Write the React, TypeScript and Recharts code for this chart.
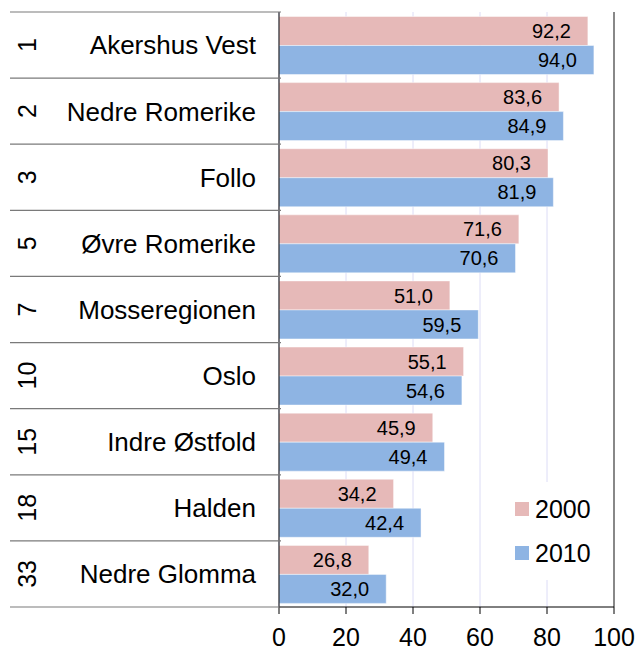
import React from 'react';
import { BarChart, Bar, XAxis, YAxis, CartesianGrid, LabelList, ReferenceLine } from 'recharts';

const regions = ['Akershus Vest', 'Nedre Romerike', 'Follo', 'Øvre Romerike', 'Mosseregionen', 'Oslo', 'Indre Østfold', 'Halden', 'Nedre Glomma'];
const ranks = ['1', '2', '3', '5', '7', '10', '15', '18', '33'];
const values2000 = [92.2, 83.6, 80.3, 71.6, 51.0, 55.1, 45.9, 34.2, 26.8];
const values2010 = [94.0, 84.9, 81.9, 70.6, 59.5, 54.6, 49.4, 42.4, 32.0];
const xTicks = [0, 20, 40, 60, 80, 100];
const seriesNames = ['2000', '2010'];

const data = regions.map((name, i) => ({ name, rank: ranks[i], v2000: values2000[i], v2010: values2010[i] }));

const FONT = '"Liberation Sans", Arial, sans-serif';
const PINK = '#E6B9B8';
const BLUE = '#8EB4E3';

const W = 639;
const H = 650;
const TOP = 12;
const XAXIS_H = 43;
const PLOT_H = H - TOP - XAXIS_H;
const BAND = PLOT_H / regions.length;

const fmt = (v: any) => Number(v).toFixed(1).replace('.', ',');

const CategoryTick = (props: any) => {
  const { y, payload } = props;
  const idx = payload.index;
  const top = y - BAND / 2;
  const bottom = y + BAND / 2;
  return (
    <g>
      <line x1={10} x2={281} y1={top} y2={top} stroke="#7a7a7a" strokeWidth={1.2} />
      {idx === regions.length - 1 && (
        <line x1={10} x2={281} y1={bottom} y2={bottom} stroke="#7a7a7a" strokeWidth={1.2} />
      )}
      <text x={256} y={y} dy="0.36em" textAnchor="end" fontSize={26} fill="#000" fontFamily={FONT}>
        {payload.value}
      </text>
      <text
        x={27}
        y={y}
        dy="0.36em"
        textAnchor="middle"
        fontSize={25}
        fill="#000"
        fontFamily={FONT}
        transform={`rotate(-90 27 ${y})`}
      >
        {ranks[idx]}
      </text>
    </g>
  );
};

const LegendBox = () => {
  const colors = [PINK, BLUE];
  return (
    <div
      style={{
        position: 'absolute',
        left: 506,
        top: 482,
        width: 100,
        background: '#fff',
        paddingTop: 5,
        paddingBottom: 5,
        boxSizing: 'border-box',
      }}
    >
      {seriesNames.map((s, i) => (
        <div key={s} style={{ height: 44, display: 'flex', alignItems: 'center', paddingLeft: 9 }}>
          <div style={{ width: 14, height: 14, background: colors[i], marginRight: 6 }} />
          <span style={{ fontSize: 25, fontFamily: FONT, color: '#000', lineHeight: '25px' }}>{s}</span>
        </div>
      ))}
    </div>
  );
};

export default function App() {
  return (
    <div style={{ position: 'absolute', left: 0, top: 0, width: W, height: H, background: '#fff', fontFamily: FONT }}>
      <BarChart
        width={W}
        height={H}
        data={data}
        layout="vertical"
        margin={{ top: TOP, right: 25, bottom: 0, left: 0 }}
        barCategoryGap={4.5}
        barGap={0}
      >
        <CartesianGrid horizontal={false} stroke="#DCDCF6" strokeWidth={1} />
        <XAxis
          type="number"
          domain={[0, 100]}
          ticks={xTicks}
          height={XAXIS_H}
          tickSize={7}
          tickMargin={14}
          tick={{ fontSize: 25, fill: '#000', fontFamily: FONT }}
          tickLine={{ stroke: '#000' }}
          axisLine={{ stroke: '#000' }}
          interval={0}
        />
        <XAxis
          xAxisId="top"
          orientation="top"
          type="number"
          domain={[0, 100]}
          height={0}
          tick={false}
          tickLine={false}
          axisLine={{ stroke: '#888', strokeWidth: 2 }}
        />
        <YAxis
          type="category"
          dataKey="name"
          width={279}
          tick={<CategoryTick />}
          tickLine={false}
          axisLine={{ stroke: '#000' }}
          interval={0}
        />
        <ReferenceLine x={100} stroke="#888" strokeWidth={2} />
        <Bar dataKey="v2000" name="2000" fill={PINK} stroke="rgba(255,255,255,0.45)" strokeWidth={1} isAnimationActive={false}>
          <LabelList dataKey="v2000" position="insideRight" offset={17} formatter={fmt} style={{ fontSize: 20, fill: '#000', fontFamily: FONT }} />
        </Bar>
        <Bar dataKey="v2010" name="2010" fill={BLUE} stroke="rgba(255,255,255,0.45)" strokeWidth={1} isAnimationActive={false}>
          <LabelList dataKey="v2010" position="insideRight" offset={17} formatter={fmt} style={{ fontSize: 20, fill: '#000', fontFamily: FONT }} />
        </Bar>
      </BarChart>
      <LegendBox />
    </div>
  );
}
